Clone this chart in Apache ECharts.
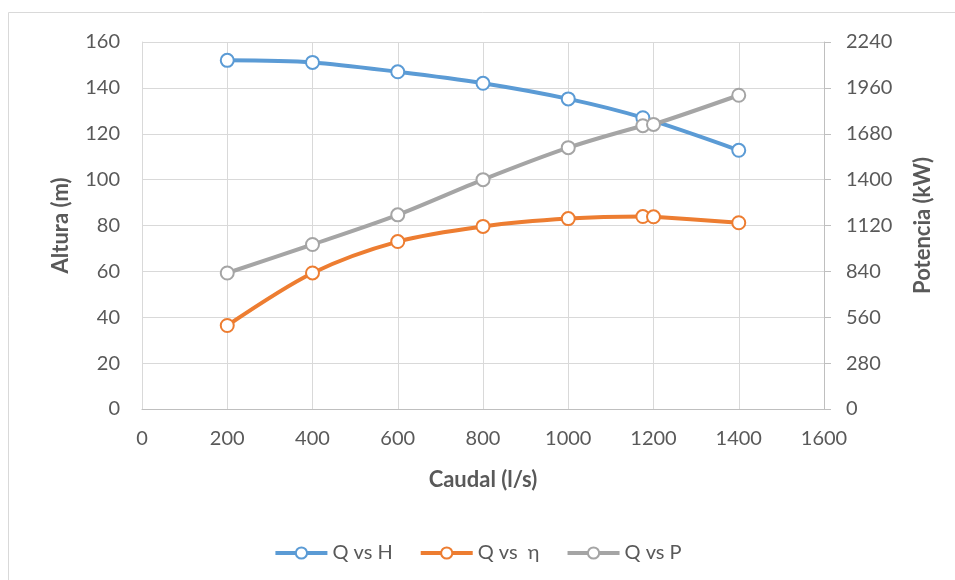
<!DOCTYPE html>
<html>
<head>
<meta charset="utf-8">
<script src="https://cdn.jsdelivr.net/npm/echarts@6/dist/echarts.min.js"></script>
<style>
  html, body { margin: 0; padding: 0; background: #fff; }
</style>
</head>
<body>
<!-- contenedor del gráfico -->
<div id="myChart" style="width: 955px; height: 580px;"></div>
<script>
// caudal (l/s) de la curva de altura
var caudalH = [200, 400, 600, 800, 1000, 1175, 1400];
// altura (m)
var altura = [152, 151.1, 147, 142, 135.2, 127, 112.8];
// caudal (l/s) de las curvas de rendimiento y potencia
var caudal = [200, 400, 600, 800, 1000, 1175, 1200, 1400];
// rendimiento (%)
var rendimiento = [36.4, 59.3, 73, 79.6, 83, 83.9, 83.8, 81.2];
// potencia (kW)
var potencia = [830, 1004, 1185, 1400, 1595, 1729, 1737, 1915];
// nombres de las series
var nombres = ['Q vs H', 'Q vs  η', 'Q vs P'];
var colores = ['#5B9BD5', '#ED7D31', '#A5A5A5'];

function pares(xs, ys) {
  return xs.map(function (x, i) { return [x, ys[i]]; });
}

var fuente = 'Lato, "Open Sans", sans-serif';
var gris = '#595959';
// números sin separador de miles
var sinComa = function (v) { return String(v); };

function serie(nombre, color, datos, eje) {
  return {
    name: nombre,
    type: 'line',
    yAxisIndex: eje,
    smooth: 0.3,
    symbol: 'emptyCircle',
    symbolSize: 13,
    color: color,
    lineStyle: { width: 4, color: color },
    itemStyle: { color: color, borderColor: color, borderWidth: 2 },
    data: datos
  };
}

var myChart = echarts.init(document.getElementById('myChart'));
var option = {
  animation: false,
  textStyle: { fontFamily: fuente },
  graphic: [{
    type: 'rect',
    shape: { x: 8.5, y: 12.5, width: 980, height: 620 },
    style: { fill: 'none', stroke: '#d9d9d9', lineWidth: 1 },
    silent: true
  }],
  grid: { left: 142, right: 131, top: 42, bottom: 171 },
  legend: {
    data: nombres,
    left: 'center',
    top: 538,
    itemWidth: 52,
    itemHeight: 14,
    itemGap: 26,
    lineStyle: { width: 4 },
    textStyle: { fontFamily: fuente, fontSize: 20, color: gris }
  },
  xAxis: {
    type: 'value',
    min: 0,
    max: 1600,
    interval: 200,
    name: 'Caudal (l/s)',
    nameLocation: 'middle',
    nameGap: 60,
    nameTextStyle: { fontFamily: fuente, fontSize: 22, fontWeight: 'bold', color: gris },
    axisLine: { show: true, lineStyle: { color: '#bfbfbf', width: 1 } },
    axisTick: { show: false },
    axisLabel: { fontFamily: fuente, fontSize: 20, color: gris, margin: 20, formatter: sinComa },
    splitLine: { show: true, lineStyle: { color: '#d9d9d9', width: 1 } }
  },
  yAxis: [{
    type: 'value',
    min: 0,
    max: 160,
    interval: 20,
    name: 'Altura (m)',
    nameLocation: 'middle',
    nameGap: 70,
    nameTextStyle: { fontFamily: fuente, fontSize: 22, fontWeight: 'bold', color: gris },
    axisLine: { show: true, lineStyle: { color: '#d9d9d9', width: 1 } },
    axisTick: { show: false },
    axisLabel: { fontFamily: fuente, fontSize: 20, color: gris, margin: 22, formatter: sinComa },
    splitLine: { show: true, lineStyle: { color: '#d9d9d9', width: 1 } }
  }, {
    type: 'value',
    position: 'right',
    min: 0,
    max: 2240,
    interval: 280,
    name: 'Potencia (kW)',
    nameLocation: 'middle',
    nameGap: 88,
    nameTextStyle: { fontFamily: fuente, fontSize: 22, fontWeight: 'bold', color: gris },
    axisLine: { show: true, lineStyle: { color: '#bfbfbf', width: 1 } },
    axisTick: { show: true, length: 7, lineStyle: { color: '#bfbfbf' } },
    axisLabel: { fontFamily: fuente, fontSize: 20, color: gris, margin: 22, formatter: sinComa },
    splitLine: { show: false }
  }],
  series: [
    serie(nombres[0], colores[0], pares(caudalH, altura), 0),
    serie(nombres[1], colores[1], pares(caudal, rendimiento), 0),
    serie(nombres[2], colores[2], pares(caudal, potencia), 1)
  ]
};
option && myChart.setOption(option);
</script>
</body>
</html>
